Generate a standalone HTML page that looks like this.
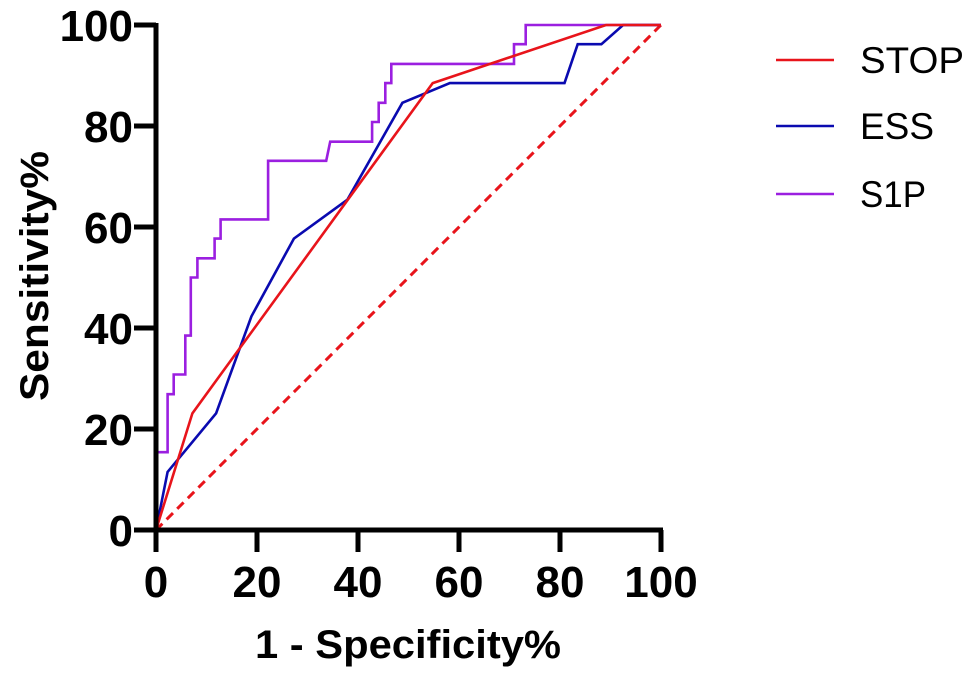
<!DOCTYPE html>
<html><head><meta charset="utf-8"><style>
html,body{margin:0;padding:0;background:#fff;}
svg{display:block;font-family:"Liberation Sans",sans-serif;}
</style></head><body>
<svg id="chart" width="977" height="679" viewBox="0 0 977 679">
<g id="plot"></g>
<g id="axes"></g>
<text x="408" y="658" text-anchor="middle" font-weight="bold" font-size="40" textLength="306" lengthAdjust="spacingAndGlyphs">1 - Specificity%</text>
<text transform="translate(48,276) rotate(-90)" text-anchor="middle" font-weight="bold" font-size="40" textLength="250" lengthAdjust="spacingAndGlyphs">Sensitivity%</text>
<g id="legend"></g>
</svg>
<script>
const xTicks = [0, 20, 40, 60, 80, 100];
const yTicks = [0, 20, 40, 60, 80, 100];
const seriesNames = ["STOP", "ESS", "S1P"];
const seriesColors = ["#e8141b", "#0a0ab0", "#9b1fe0"];
const stopX = [0, 7.2, 54.8, 89.1, 100];
const stopY = [0, 23.1, 88.5, 100, 100];
const essX = [0, 2.3, 11.9, 18.9, 27.3, 37.9, 48.8, 58.2, 80.9, 83.5, 88.2, 92.5, 100];
const essY = [0, 11.5, 23.1, 42.3, 57.7, 65.4, 84.6, 88.5, 88.5, 96.2, 96.2, 100, 100];
const s1pX = [0, 0, 2.3, 2.3, 3.5, 3.5, 5.8, 5.8, 6.9, 6.9, 8.2, 8.2, 11.6, 11.6, 12.8, 12.8, 22.2, 22.2, 33.7, 34.5, 42.8, 42.8, 44.1, 44.1, 45.4, 45.4, 46.6, 46.6, 70.9, 70.9, 73.2, 73.2, 100];
const s1pY = [0, 15.4, 15.4, 26.9, 26.9, 30.8, 30.8, 38.5, 38.5, 50, 50, 53.8, 53.8, 57.7, 57.7, 61.5, 61.5, 73.1, 73.1, 76.9, 76.9, 80.8, 80.8, 84.6, 84.6, 88.5, 88.5, 92.3, 92.3, 96.2, 96.2, 100, 100];
const refX = [0, 100];
const refY = [0, 100];

const X0 = 156, X1 = 661, Y0 = 530, Y1 = 25;
const sx = v => X0 + (X1 - X0) * v / 100;
const sy = v => Y0 - (Y0 - Y1) * v / 100;
const NS = "http://www.w3.org/2000/svg";
function mk(tag, attrs, parent) {
  const e = document.createElementNS(NS, tag);
  for (const k in attrs) e.setAttribute(k, attrs[k]);
  parent.appendChild(e);
  return e;
}
const plot = document.getElementById("plot");
const axes = document.getElementById("axes");
const legend = document.getElementById("legend");

function pts(xs, ys) { return xs.map((x, i) => sx(x).toFixed(1) + "," + sy(ys[i]).toFixed(1)).join(" "); }

const ref = mk("polyline", {points: pts(refX, refY), fill: "none", stroke: "#e8141b", "stroke-width": 3, "stroke-dasharray": "9,6"}, plot);



const seriesData = [[stopX, stopY], [essX, essY], [s1pX, s1pY]];
const order = [2, 1, 0];
order.forEach(i => {
  const p = mk("polyline", {points: pts(seriesData[i][0], seriesData[i][1]), fill: "none", stroke: seriesColors[i], "stroke-width": 2.6, "stroke-linejoin": "miter"}, plot);
  
  
});

const xa = mk("line", {x1: X0 - 2, y1: Y0, x2: X1 + 2, y2: Y0, stroke: "#000", "stroke-width": 5}, axes);


const ya = mk("line", {x1: X0, y1: Y0 + 2, x2: X0, y2: Y1 - 2, stroke: "#000", "stroke-width": 5}, axes);



xTicks.forEach(v => {
  const t = mk("line", {x1: sx(v), y1: Y0, x2: sx(v), y2: Y0 + 22, stroke: "#000", "stroke-width": 5}, axes);
  
  
  const s = String(v);
  const l = mk("text", {x: sx(v), y: 597, "text-anchor": "middle", "font-weight": "bold", "font-size": 44}, axes);
  l.textContent = s;
  
  
});
yTicks.forEach(v => {
  const t = mk("line", {x1: X0 - 22, y1: sy(v), x2: X0, y2: sy(v), stroke: "#000", "stroke-width": 5}, axes);
  
  
  const s = String(v);
  const l = mk("text", {x: 133, y: sy(v) + 16, "text-anchor": "end", "font-weight": "bold", "font-size": 44}, axes);
  l.textContent = s;
  
  
});

const legY = [60, 126, 194];
const legW = [104, 74, 66];
seriesNames.forEach((n, i) => {
  const ln = mk("line", {x1: 776, y1: legY[i], x2: 834, y2: legY[i], stroke: seriesColors[i], "stroke-width": 2.6}, legend);
  
  
  const tx = mk("text", {x: 860, y: legY[i] + 13, "font-size": 37, textLength: legW[i], lengthAdjust: "spacingAndGlyphs"}, legend);
  tx.textContent = n;
  
  
});
</script>
</body></html>
